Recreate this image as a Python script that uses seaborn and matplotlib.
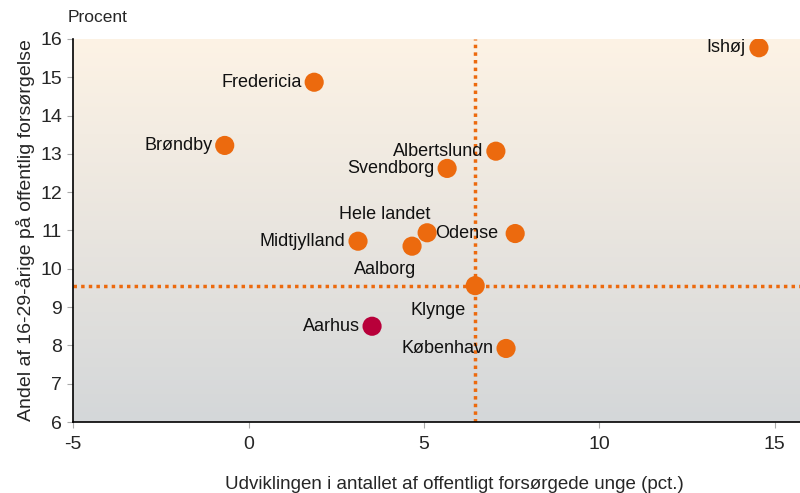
import numpy as np
import pandas as pd
import matplotlib
matplotlib.use("Agg")
import matplotlib.pyplot as plt
import seaborn as sns
from matplotlib.colors import LinearSegmentedColormap

# Data
kommuner = ["Ishøj", "Fredericia", "Brøndby", "Albertslund", "Svendborg",
            "Midtjylland", "Aalborg", "Hele landet", "Odense", "Klynge",
            "Aarhus", "København"]
udvikling = [14.55, 1.87, -0.68, 7.05, 5.66, 3.12, 4.66, 5.09, 7.6, 6.46, 3.52, 7.34]
andel = [15.77, 14.87, 13.22, 13.07, 12.62, 10.72, 10.59, 10.94, 10.92, 9.56, 8.5, 7.92]
gruppe = ["andre"] * 10 + ["aarhus"] + ["andre"]

klynge_x = 6.46
klynge_y = 9.56

df = pd.DataFrame({"kommune": kommuner, "x": udvikling, "y": andel, "gruppe": gruppe})

sns.set_style("white")
plt.rcParams["font.family"] = ["Liberation Sans", "DejaVu Sans"]
plt.rcParams["axes.unicode_minus"] = False

orange = "#EC6A0E"
red = "#B8003A"

fig = plt.figure(figsize=(8, 4.93), dpi=100)
ax = fig.add_axes([0.0915, 0.144, 0.9085, 0.777])

xmin, xmax, ymin, ymax = -5, 15.72, 6, 16

# gradient background
grad = LinearSegmentedColormap.from_list("bg", ["#D4D7D9", "#E9E5DF", "#FDF3E5"])
ax.imshow(np.linspace(0, 1, 256).reshape(-1, 1), cmap=grad, origin="lower",
          extent=[xmin, xmax, ymin, ymax], aspect="auto", zorder=0)

ax.axvline(klynge_x, color=orange, lw=2.5, ls=(0, (1, 1.2)), zorder=1)
ax.axhline(klynge_y, color=orange, lw=2.5, ls=(0, (1, 1.2)), zorder=1)

sns.scatterplot(data=df, x="x", y="y", hue="gruppe",
                palette={"andre": orange, "aarhus": red},
                s=190, edgecolor="none", legend=False, ax=ax, zorder=3)

# labels (offsets in points)
offsets = {
    "Ishøj": (-10, 0),
    "Fredericia": (-9, 0),
    "Brøndby": (-9, 0),
    "Albertslund": (-9, 0),
    "Svendborg": (-9, 0),
    "Midtjylland": (-9, 0),
    "Aalborg": (3, -17),
    "Hele landet": (2, 13),
    "Odense": (-12, 0),
    "Klynge": (-7, -18),
    "Aarhus": (-9, 0),
    "København": (-9, 0),
}
for k, xv, yv in zip(kommuner, udvikling, andel):
    dx, dy = offsets[k]
    ax.annotate(k, (xv, yv), xytext=(dx, dy), textcoords="offset points",
                ha="right", va="center", fontsize=13, color="#111111", zorder=4)

ax.set_xlim(xmin, xmax)
ax.set_ylim(ymin, ymax)
ax.set_xticks([-5, 0, 5, 10, 15])
ax.set_yticks(range(6, 17))
ax.tick_params(axis="both", labelsize=14, length=4, color="#AAAAAA", direction="out",
               bottom=True, left=True, pad=4)
ax.tick_params(axis="x", pad=6)

for side in ["top", "right"]:
    ax.spines[side].set_visible(False)
for side in ["left", "bottom"]:
    ax.spines[side].set_color("black")
    ax.spines[side].set_linewidth(1.2)

ax.set_xlabel("Udviklingen i antallet af offentligt forsørgede unge (pct.)", fontsize=13.5)
ax.xaxis.set_label_coords(0.524, -0.14)
ax.set_ylabel("Andel af 16-29-årige på offentlig forsørgelse", fontsize=14, labelpad=4)
fig.text(0.085, 0.965, "Procent", fontsize=12.5, va="center")

fig.savefig("out.png", dpi=100)
